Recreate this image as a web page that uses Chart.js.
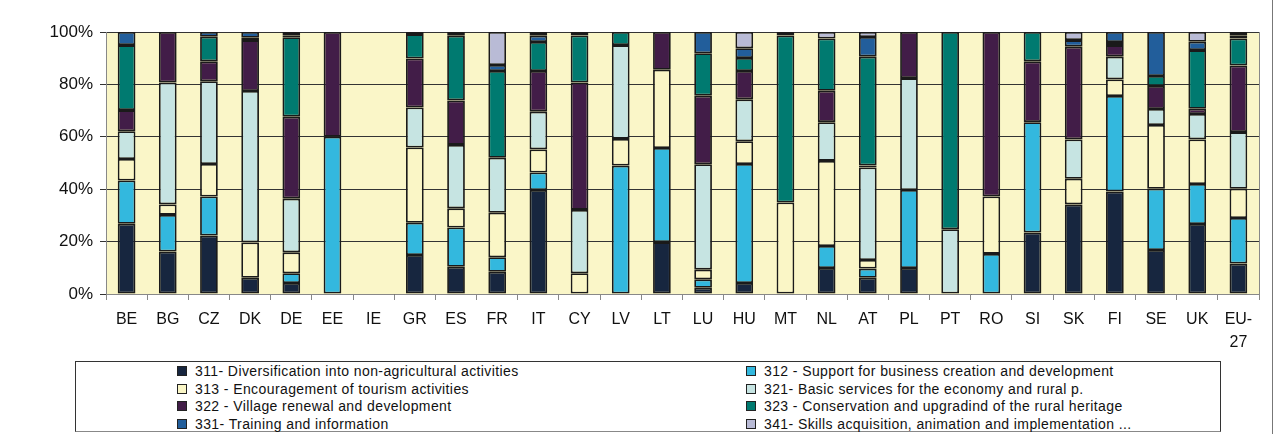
<!DOCTYPE html>
<html>
<head>
<meta charset="utf-8">
<script src="https://cdn.jsdelivr.net/npm/chart.js@4/dist/chart.umd.min.js"></script>
<style>
  body { margin: 0; background: #fff; font-family: "Liberation Sans", Arial, sans-serif; }
  #wrap { position: relative; width: 1274px; height: 434px; overflow: hidden; }
  #c { position: absolute; left: 0; top: 0; }
  #frame { position: absolute; left: 1272px; top: 0; width: 1px; height: 434px; background: #777; }
  #legend { position: absolute; left: 75px; top: 361px; width: 1146px; height: 71px; border: 1px solid #333; border-bottom-color: #888; box-sizing: border-box; }
  .item { position: absolute; font-size: 14px; letter-spacing: 0.4px; color: #111; white-space: nowrap; line-height: 16px; }
  .sw { position: absolute; left: 0; top: 3px; width: 8px; height: 8px; border: 1px solid #222; }
  .item span.t { position: absolute; left: 18px; top: 0; }
</style>
</head>
<body>
<div id="wrap">
  <canvas id="c" width="1274" height="352"></canvas>
  <div id="legend"></div>
  <div id="frame"></div>
</div>
<script>
// 国家 / 类别
var countries = ['BE', 'BG', 'CZ', 'DK', 'DE', 'EE', 'IE', 'GR', 'ES', 'FR', 'IT', 'CY', 'LV', 'LT',
    'LU', 'HU', 'MT', 'NL', 'AT', 'PL', 'PT', 'RO', 'SI', 'SK', 'FI', 'SE', 'UK', ['EU-', '27']];

var measureNames = [
    '311- Diversification into non-agricultural activities',
    '312 - Support for business creation and development',
    '313 - Encouragement of tourism activities',
    '321- Basic services for the economy and rural p.',
    '322 - Village renewal and development',
    '323 - Conservation and upgradind of the rural heritage',
    '331- Training and information',
    '341- Skills acquisition, animation and implementation ...'
];
var measureColors = ['#17263f', '#33b8de', '#faf6c6', '#c6e4e2', '#421d48', '#007a70', '#225e9b', '#b9bbd6'];

// 各措施占比 (%)，顺序同 countries
var m311 = [26.8, 16.2, 22.3, 6.2, 4.2, 0, 0, 14.9, 10.4, 8.5, 39.7, 0, 0, 19.8,
    2.4, 4.2, 0, 9.9, 6.2, 9.9, 0, 0, 23.5, 34.2, 39.1, 16.8, 26.7, 11.6];
var m312 = [16.5, 14.0, 14.9, 0, 3.7, 60.0, 0, 12.3, 15.0, 5.5, 6.7, 0, 49.0, 35.9,
    3.2, 45.4, 0, 8.4, 3.5, 29.8, 0, 15.3, 42.1, 0, 36.5, 23.4, 15.3, 17.4];
var m313 = [8.2, 4.0, 12.4, 13.5, 8.0, 0, 0, 28.7, 7.3, 17.0, 8.8, 7.9, 10.2, 29.9,
    3.7, 8.7, 34.9, 32.5, 3.3, 0, 0, 21.9, 0, 9.8, 6.3, 24.3, 17.0, 11.2];
var m321 = [10.6, 46.5, 31.6, 57.8, 20.5, 0, 0, 15.3, 24.2, 21.0, 14.4, 24.2, 35.8, 0,
    40.2, 16.0, 0, 14.8, 35.3, 42.7, 24.7, 0, 0, 15.0, 8.7, 6.1, 9.7, 21.6];
var m322 = [8.1, 19.3, 7.6, 19.4, 31.3, 40.0, 0, 18.7, 17.0, 0, 15.5, 48.6, 0, 14.4,
    26.2, 10.8, 0, 12.0, 0.7, 17.6, 0, 62.8, 23.2, 35.4, 4.4, 8.8, 2.0, 25.4];
var m323 = [24.8, 0, 9.4, 0.9, 30.3, 0, 0, 9.3, 24.7, 33.1, 11.1, 18.0, 5.0, 0,
    16.2, 5.0, 63.8, 19.9, 41.6, 0, 75.3, 0, 11.2, 0, 1.2, 3.8, 22.4, 10.3];
var m331 = [5.0, 0, 1.8, 2.2, 0.8, 0, 0, 0.8, 1.4, 2.3, 2.4, 0, 0, 0,
    8.1, 3.7, 0, 0, 7.5, 0, 0, 0, 0, 2.5, 3.8, 16.8, 3.2, 1.1];
var m341 = [0, 0, 0, 0, 1.2, 0, 0, 0, 0, 12.6, 1.4, 1.3, 0, 0,
    0, 6.2, 1.3, 2.5, 1.9, 0, 0, 0, 0, 3.1, 0, 0, 3.7, 1.4];

var yTicks = [0, 20, 40, 60, 80, 100];

var series = [m311, m312, m313, m321, m322, m323, m331, m341];

// 绘图区背景 + 右边框
var plotBg = {
    id: 'plotBg',
    beforeDraw: function (chart) {
        var a = chart.chartArea, ctx = chart.ctx;
        ctx.save();
        ctx.fillStyle = '#faf6c8';
        ctx.fillRect(a.left, a.top, a.right - a.left, a.bottom - a.top);
        ctx.restore();
    },
    afterDraw: function (chart) {
        var a = chart.chartArea, ctx = chart.ctx;
        ctx.save();
        ctx.strokeStyle = '#888';
        ctx.lineWidth = 1;
        ctx.beginPath();
        ctx.moveTo(a.right + 0.5, a.top);
        ctx.lineTo(a.right + 0.5, a.bottom + 6);
        ctx.stroke();
        ctx.restore();
    }
};

var ctx = document.getElementById('c').getContext('2d');
new Chart(ctx, {
    type: 'bar',
    data: {
        labels: countries,
        datasets: series.map(function (vals, i) {
            return {
                label: measureNames[i],
                data: vals.map(function (v) { return v || null; }),
                backgroundColor: measureColors[i],
                borderColor: '#1a1a1a',
                borderWidth: 1.8,
                borderSkipped: false,
                barPercentage: 0.43,
                categoryPercentage: 1
            };
        })
    },
    options: {
        responsive: false,
        animation: false,
        layout: { padding: { top: 32, right: 15, left: 0, bottom: 0 } },
        plugins: { legend: { display: false }, tooltip: { enabled: false } },
        scales: {
            x: {
                stacked: true,
                offset: true,
                grid: { offset: true, drawOnChartArea: false, drawTicks: true, tickLength: 6, color: '#888' },
                border: { color: '#888' },
                ticks: {
                    color: '#111', padding: 8, maxRotation: 0, autoSkip: false,
                    font: { family: 'Liberation Sans', size: 16, lineHeight: 1.45 }
                },
                afterFit: function (s) { s.height = 58; }
            },
            y: {
                stacked: true,
                min: 0,
                max: 100,
                afterBuildTicks: function (s) { s.ticks = yTicks.map(function (v) { return { value: v }; }); },
                grid: { color: '#333', lineWidth: 1, drawTicks: true, tickLength: 6 },
                border: { color: '#888' },
                ticks: {
                    color: '#111', padding: 7,
                    font: { family: 'Liberation Sans', size: 17 },
                    callback: function (v) { return v + '%'; }
                },
                afterFit: function (s) { s.width = 106; }
            }
        }
    },
    plugins: [plotBg]
});

// 图例：两列
var legendEl = document.getElementById('legend');
measureNames.forEach(function (name, i) {
    var col = i % 2, row = Math.floor(i / 2);
    var d = document.createElement('div');
    d.className = 'item';
    d.style.left = (col === 0 ? 101 : 670) + 'px';
    d.style.top = (1 + row * 17.7) + 'px';
    d.innerHTML = '<div class="sw" style="background:' + measureColors[i] + '"></div><span class="t"></span>';
    d.querySelector('.t').textContent = name;
    legendEl.appendChild(d);
});
</script>
</body>
</html>
